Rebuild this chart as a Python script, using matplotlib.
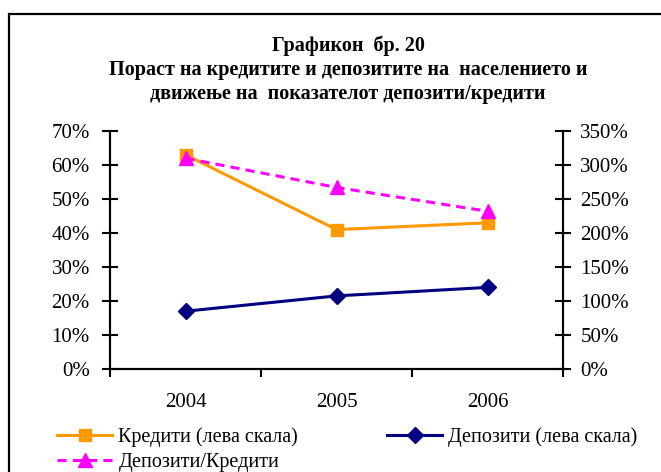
import matplotlib.pyplot as plt
from matplotlib.patches import Rectangle
from matplotlib.ticker import FuncFormatter, FixedLocator

plt.rcParams['font.family'] = ['Liberation Serif', 'DejaVu Serif']

# data
years = ['2004', '2005', '2006']
krediti = [63, 41, 43]          # % left scale
depoziti = [17, 21.5, 24]       # % left scale
dep_kred = [310, 267, 232]      # % right scale

title = ('Графикон  бр. 20\n'
         'Пораст на кредитите и депозитите на  населението и\n'
         'движење на  показателот депозити/кредити')

fig = plt.figure(figsize=(6.61, 4.72), dpi=100)
fig.patches.append(Rectangle((9 / 661, -0.1), 1.2, 1 - 14 / 472 + 0.1,
                             transform=fig.transFigure, fill=False,
                             edgecolor='black', linewidth=1.6))

ax = fig.add_axes([110 / 661, 1 - 369 / 472, 453 / 661, 238 / 472])
ax2 = ax.twinx()

x = [i + 0.5 for i in range(len(years))]
h1, = ax.plot(x, krediti, color='#FF9900', lw=2.2, marker='s', ms=8.5,
              label='Кредити (лева скала)')
h2, = ax.plot(x, depoziti, color='#000080', lw=2.2, marker='D', ms=8.5,
              label='Депозити (лева скала)')
h3, = ax2.plot(x, dep_kred, color='#FF00FF', lw=2.2, ls=(0, (3, 2)), marker='^', ms=10,
               label='Депозити/Кредити')

ax.set_xlim(0, 3)
ax.set_ylim(0, 70)
ax2.set_ylim(0, 350)
ax.set_yticks(range(0, 71, 10))
ax2.set_yticks(range(0, 351, 50))
pct = FuncFormatter(lambda v, p: f'{v:.0f}%')
ax.yaxis.set_major_formatter(pct)
ax2.yaxis.set_major_formatter(pct)

ax.xaxis.set_major_locator(FixedLocator([0, 1, 2, 3]))
ax.xaxis.set_major_formatter(FuncFormatter(lambda v, p: ''))
ax.xaxis.set_minor_locator(FixedLocator(x))
ax.set_xticklabels(years, minor=True)
ax.tick_params(axis='x', which='minor', length=0, pad=17, labelsize=15)
ax.tick_params(axis='x', which='major', direction='out', length=6, width=1.5)
ax.tick_params(axis='y', direction='inout', length=11, width=1.5, labelsize=15, pad=9)
ax2.tick_params(axis='y', direction='inout', length=11, width=1.5, labelsize=15, pad=7)

for a in (ax, ax2):
    a.spines['top'].set_visible(False)
    for s in ('left', 'right', 'bottom'):
        a.spines[s].set_linewidth(1.5)

fig.text(348 / 661, 1 - 35 / 472, title, ha='center', va='top', fontsize=14.5,
         fontweight='bold', linespacing=1.27)

fig.legend([h1, h3, h2], [h1.get_label(), h3.get_label(), h2.get_label()],
           ncol=2, loc='upper left', bbox_to_anchor=(49 / 661, 1 - 419 / 472),
           frameon=False, fontsize=14.5, handlelength=2.75, columnspacing=4.4,
           labelspacing=0.3, handletextpad=0.3, borderaxespad=0)

fig.savefig('out.png', dpi=100)
